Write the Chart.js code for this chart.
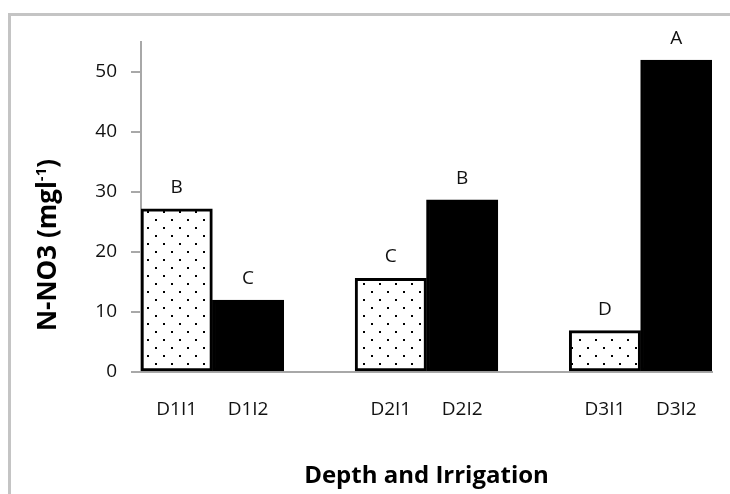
<!DOCTYPE html>
<html>
<head>
<meta charset="utf-8">
<script src="https://cdn.jsdelivr.net/npm/chart.js@4.4.1/dist/chart.umd.min.js"></script>
<style>
  html, body { margin: 0; padding: 0; background: #fff; }
  #wrap { position: relative; width: 730px; height: 494px; overflow: hidden; }
  #frame {
    position: absolute; left: 8px; top: 13px; width: 900px; height: 700px;
    border: 3px solid #c4c4c4; box-sizing: border-box;
  }
  #box { position: absolute; left: 0; top: 0; width: 730px; height: 494px; }
</style>
</head>
<body>
<div id="wrap">
  <div id="frame"></div>
  <div id="box"><canvas id="chart"></canvas></div>
</div>
<script>
  // empty labels are the gaps between depth groups
  const categories = ['D1I1', 'D1I2', '', 'D2I1', 'D2I2', '', 'D3I1', 'D3I2']
  const values = [27.2, 12, null, 15.6, 28.7, null, 6.9, 52]
  const letters = ['B', 'C', '', 'C', 'B', '', 'D', 'A']
  const irrigation = ['I1', 'I2', '', 'I1', 'I2', '', 'I1', 'I2']
  const yTicks = [0, 10, 20, 30, 40, 50]

  const textColor = '#111111'
  const axisColor = '#a8a8a8'

  function dotPattern() {
    const c = document.createElement('canvas')
    c.width = 16
    c.height = 16
    const g = c.getContext('2d')
    g.fillStyle = '#ffffff'
    g.fillRect(0, 0, 16, 16)
    g.fillStyle = '#000000'
    g.fillRect(3, 3, 2, 2)
    g.fillRect(11, 11, 2, 2)
    return g.createPattern(c, 'repeat')
  }

  const dots = dotPattern()

  const letterLabels = {
    id: 'letterLabels',
    afterDatasetsDraw(chart) {
      const ctx = chart.ctx
      const meta = chart.getDatasetMeta(0)
      ctx.save()
      ctx.font = '19px "Open Sans"'
      ctx.fillStyle = textColor
      ctx.textAlign = 'center'
      ctx.textBaseline = 'alphabetic'
      meta.data.forEach((bar, i) => {
        if (values[i] == null) return
        ctx.fillText(letters[i], bar.x, bar.y - 16)
      })
      ctx.restore()
    }
  }

  const yTitle = {
    id: 'yTitle',
    afterDraw(chart) {
      const ctx = chart.ctx
      const area = chart.chartArea
      const main = 'N-NO3 (mgl'
      const sup = '-1'
      const end = ')'
      ctx.save()
      ctx.fillStyle = '#000000'
      ctx.font = 'bold 26px "Open Sans"'
      const w1 = ctx.measureText(main).width
      const w3 = ctx.measureText(end).width
      ctx.font = 'bold 15px "Open Sans"'
      const w2 = ctx.measureText(sup).width
      const total = w1 + w2 + w3
      ctx.translate(area.left - 85, (area.top + area.bottom) / 2 + 38)
      ctx.rotate(-Math.PI / 2)
      ctx.textBaseline = 'alphabetic'
      ctx.textAlign = 'left'
      let x = -total / 2
      ctx.font = 'bold 26px "Open Sans"'
      ctx.fillText(main, x, 0)
      x += w1
      ctx.font = 'bold 15px "Open Sans"'
      ctx.fillText(sup, x, -10)
      x += w2
      ctx.font = 'bold 26px "Open Sans"'
      ctx.fillText(end, x, 0)
      ctx.restore()
    }
  }

  new Chart(document.getElementById('chart'), {
    type: 'bar',
    data: {
      labels: categories,
      datasets: [{
        label: 'N-NO3',
        data: values,
        backgroundColor: irrigation.map((it) => (it === 'I1' ? dots : '#000000')),
        borderColor: '#000000',
        borderWidth: 3,
        borderSkipped: false,
        barPercentage: 1,
        categoryPercentage: 1
      }]
    },
    options: {
      responsive: true,
      maintainAspectRatio: false,
      animation: false,
      layout: {
        padding: { top: 42, right: 18, left: 0, bottom: 0 }
      },
      scales: {
        x: {
          grid: { display: false, drawTicks: false },
          border: { display: true, color: axisColor, width: 2 },
          ticks: {
            color: textColor,
            font: { family: 'Open Sans', size: 19 },
            padding: 26,
            maxRotation: 0,
            autoSkip: false
          },
          title: {
            display: true,
            text: 'Depth and Irrigation',
            color: '#000000',
            font: { family: 'Open Sans', size: 24, weight: 'bold' },
            padding: { top: 0, bottom: 3 }
          },
          afterFit(scale) {
            scale.height = 122
          }
        },
        y: {
          min: 0,
          max: 55,
          grid: {
            drawOnChartArea: false,
            drawTicks: true,
            tickLength: 10,
            color: axisColor,
            lineWidth: 2
          },
          border: { display: true, color: axisColor, width: 2 },
          ticks: {
            stepSize: 10,
            color: textColor,
            font: { family: 'Open Sans', size: 19 },
            padding: 14
          },
          afterBuildTicks(scale) {
            scale.ticks = yTicks.map((v) => ({ value: v }))
          },
          afterFit(scale) {
            scale.width = 141
          }
        }
      },
      plugins: {
        legend: { display: false },
        tooltip: { enabled: false }
      }
    },
    plugins: [letterLabels, yTitle]
  })
</script>
</body>
</html>
